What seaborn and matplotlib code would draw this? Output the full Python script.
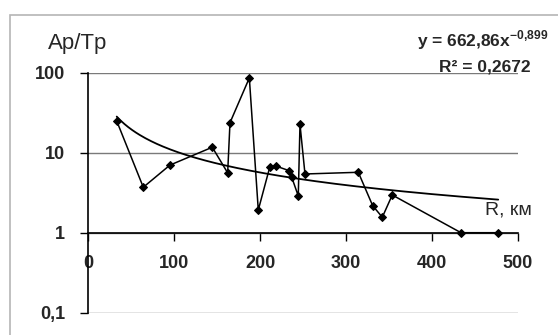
import numpy as np
import pandas as pd
import matplotlib
matplotlib.use("Agg")
import matplotlib.pyplot as plt
from matplotlib.patches import Rectangle
import seaborn as sns

# Data
r_km = [33.4, 64.3, 95.3, 144.5, 162.4, 165.1, 187.6, 198.0, 211.3, 218.6,
        234.0, 236.9, 244.5, 246.5, 252.3, 314.3, 331.0, 342.2, 353.8, 433.7, 477.0]
ap_tp = [24.9, 3.7, 7.0, 11.7, 5.6, 23.7, 86.0, 1.92, 6.57, 6.8,
         5.96, 4.93, 2.88, 22.6, 5.42, 5.69, 2.18, 1.56, 2.96, 1.0, 1.0]
trend_a = 662.86
trend_b = -0.899
x_ticks = [0, 100, 200, 300, 400, 500]
y_ticks = [0.1, 1, 10, 100]
y_tick_labels = ["0,1", "1", "10", "100"]

sns.set_style("white")
plt.rcParams['font.family'] = ['Liberation Sans', 'DejaVu Sans']
plt.rcParams['mathtext.fontset'] = 'custom'
plt.rcParams['mathtext.rm'] = 'Liberation Sans'
plt.rcParams['mathtext.bf'] = 'Liberation Sans:bold'

W, H = 558, 335
fig = plt.figure(figsize=(W / 100, H / 100), dpi=100)
ax = fig.add_axes([88 / W, 1 - 312.7 / H, (518 - 88) / W, (312.7 - 72.7) / H])

# outer chart border (only top/left visible)
fig.patches.append(Rectangle((10 / W, -0.1), 1.2, 1 - 15 / H + 0.1,
                             transform=fig.transFigure, fill=False,
                             edgecolor='#b5b5b5', lw=1.2))

df = pd.DataFrame({"R": r_km, "AT": ap_tp})
sns.lineplot(data=df, x="R", y="AT", sort=False, estimator=None, ax=ax,
             color='black', lw=1.1, marker='D', markersize=4.5,
             markeredgecolor='black', zorder=4)

xt = np.linspace(min(r_km), max(r_km), 200)
trend = pd.DataFrame({"R": xt, "AT": trend_a * xt ** trend_b})
sns.lineplot(data=trend, x="R", y="AT", sort=False, estimator=None, ax=ax,
             color='black', lw=1.3, zorder=3)

ax.set_yscale('log')
ax.set_ylim(0.1, 100)
ax.set_xlim(0, 500)
ax.set_xlabel("")
ax.set_ylabel("")

for s in ['top', 'right']:
    ax.spines[s].set_visible(False)
ax.spines['bottom'].set_position(('data', 1))
ax.spines['bottom'].set_color('black')
ax.spines['bottom'].set_linewidth(1.2)
ax.spines['left'].set_color('black')
ax.spines['left'].set_linewidth(1.2)

ax.set_yticks(y_ticks)
ax.set_yticklabels(y_tick_labels)
ax.yaxis.set_minor_locator(matplotlib.ticker.NullLocator())
ax.set_xticks(x_ticks)
ax.set_xticklabels([str(v) for v in x_ticks])
ax.tick_params(axis='both', which='major', direction='out', length=5.8, width=1,
               color='black', labelsize=13)
ax.tick_params(axis='y', pad=10.5, left=True)
ax.tick_params(axis='x', pad=10.5, bottom=True)
for lbl in ax.get_xticklabels() + ax.get_yticklabels():
    lbl.set_fontweight('bold')

ax.yaxis.grid(True, color='#7a7a7a', lw=1)
ax.xaxis.grid(False)
ax.set_axisbelow(True)

fig.text(48 / W, 1 - 43 / H, "Ap/Tp", fontsize=16, ha='left', va='center')
fig.text(485 / W, 1 - 210 / H, "R, км", fontsize=14, ha='left', va='center')
fig.text(548 / W, 1 - 40 / H, r"y = 662,86x$^{\mathbf{-0{,}899}}$",
         fontsize=12.5, fontweight='bold', ha='right', va='center')
fig.text(531 / W, 1 - 67 / H, "R² = 0,2672", fontsize=12.5, fontweight='bold',
         ha='right', va='center')

fig.savefig("out.png", dpi=100)
